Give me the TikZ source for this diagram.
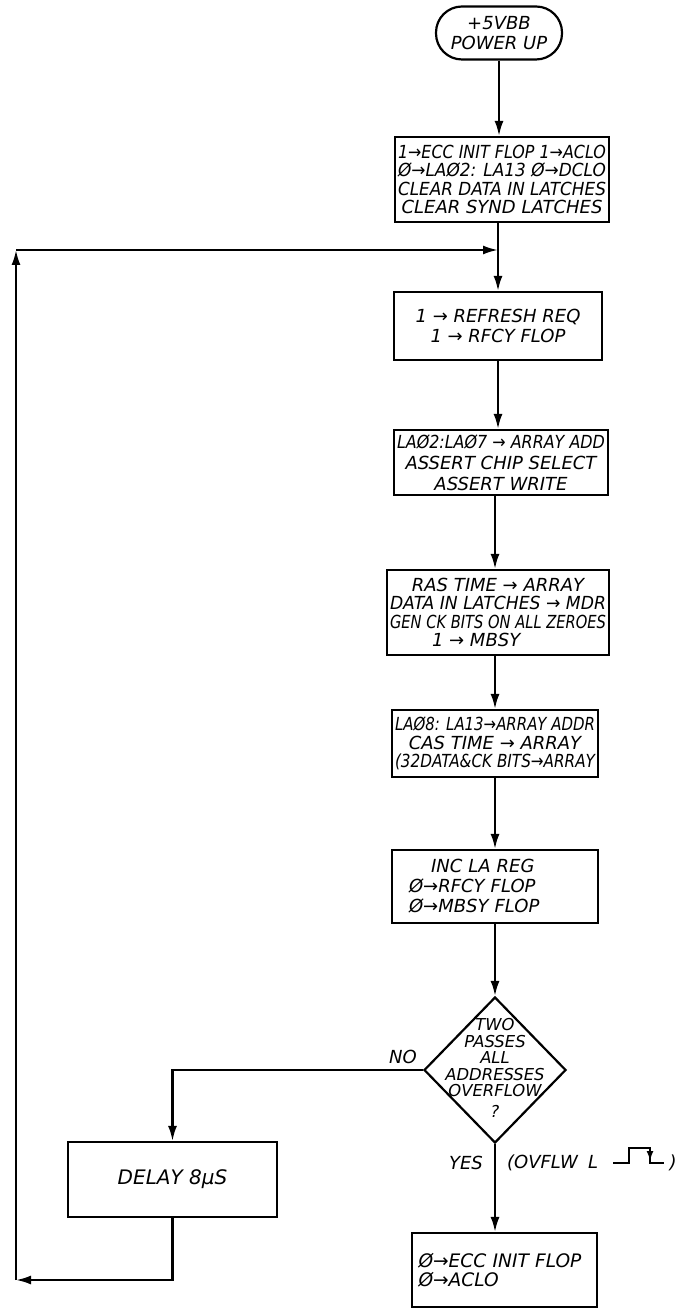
\documentclass[tikz,border=0pt]{standalone}
\usepackage{fontspec}
\setmainfont{DejaVu Sans}
\usepackage{graphicx}
\usetikzlibrary{shapes.geometric,arrows.meta}
\newlength\flw
\newcommand\fitto[2]{\settowidth\flw{#2}\ifdim\flw>#1\relax\resizebox{#1}{\height}{#2}\else#2\fi}
\begin{document}
\begin{tikzpicture}[x=0.5pt,y=-0.5pt,
  txt/.style={font=\fontsize{9}{9.3}\selectfont\itshape},
  box/.style={txt,draw,line width=1.1pt,rectangle,inner sep=0pt,align=center},
  term/.style={txt,draw,line width=1.1pt,rounded corners=13pt,inner sep=0pt,align=center,
    minimum width=63pt,minimum height=26.5pt,font=\fontsize{9}{9.6}\selectfont\itshape},
  arr/.style={line width=1.1pt,-{Latex[length=7.5pt,width=4.5pt]}},
  plain/.style={line width=1.1pt}]
\useasboundingbox (0,0) rectangle (680,1309);

\node[term] (t) at (499,33) {+5VBB\\POWER UP};

\node[box,minimum width=107pt,minimum height=42.5pt] (b1) at (502,179.5)
  {\fitto{104pt}{1→ECC INIT FLOP 1→ACLO}\\
   \fitto{104pt}{Ø→LAØ2: LA13 Ø→DCLO}\\
   \fitto{104pt}{CLEAR DATA IN LATCHES}\\
   \fitto{104pt}{CLEAR SYND LATCHES}};

\node[box,minimum width=104pt,minimum height=34pt,font=\fontsize{9}{10}\selectfont\itshape] (b2) at (498,326)
  {1 → REFRESH REQ\\1 → RFCY FLOP};

\node[box,minimum width=107pt,minimum height=32.5pt,font=\fontsize{9}{10.5}\selectfont\itshape] (b3) at (501,462.5)
  {\fitto{104pt}{LAØ2:LAØ7 → ARRAY ADD}\\
   \fitto{104pt}{ASSERT CHIP SELECT}\\
   ASSERT WRITE};

\node[box,minimum width=111pt,minimum height=42.5pt] (b4) at (498,612.5)
  {\fitto{108pt}{RAS TIME → ARRAY}\\
   \fitto{108pt}{DATA IN LATCHES → MDR}\\
   \fitto{108pt}{GEN CK BITS ON ALL ZEROES}\\
   \makebox[104pt][l]{\hspace{19pt}1 → MBSY}};

\node[box,minimum width=103pt,minimum height=33.5pt] (b5) at (495,743.5)
  {\fitto{100pt}{LAØ8: LA13→ARRAY ADDR}\\
   CAS TIME → ARRAY\\
   \fitto{100pt}{(32DATA\&CK BITS→ARRAY}};

\node[box,minimum width=103pt,minimum height=36.5pt,align=left,text width=90pt,
  font=\fontsize{9}{10}\selectfont\itshape] (b6) at (495,886.5)
  {\hspace*{13pt}INC LA REG\\
   \hspace*{2pt}Ø→RFCY FLOP\\
   \hspace*{2pt}Ø→MBSY FLOP};

\node[draw,diamond,line width=1.1pt,minimum width=71pt,minimum height=73pt,inner sep=0pt] (dia) at (495,1070) {};
\node[txt,align=center,font=\fontsize{8.2}{8.3}\selectfont\itshape] (dtxt) at (495,1068)
  {TWO\\PASSES\\ALL\\ADDRESSES\\OVERFLOW\\[2pt]?};

\node[box,minimum width=104.5pt,minimum height=37.5pt,font=\fontsize{10}{11}\selectfont\itshape] (delay) at (172.5,1179.5)
  {DELAY 8μS};

\node[box,minimum width=92.5pt,minimum height=37pt,align=left,text width=86pt,
  font=\fontsize{9.3}{9.5}\selectfont\itshape] (b7) at (504.5,1270)
  {Ø→ECC INIT FLOP\\Ø→ACLO};

\node[txt] (no) at (403,1057) {NO};
\node[txt] (yes) at (466,1163) {YES};
\node[txt,anchor=west] (ov) at (500,1163) {(OVFLW\hspace{5pt}L};
\node[txt] (cp) at (673,1163) {)};
\draw[plain,line join=miter] (613,1163) -- (629,1163) -- (629,1148) -- (650,1148) -- (650,1163) -- (664,1163);
\draw[line width=1.1pt,-{Latex[length=5pt,width=3.5pt]}] (650,1149) -- (650,1161);

\coordinate (j) at (498,250);
\coordinate (s2) at (495,0);
\coordinate (c2) at (16,1280);
\coordinate (c3) at (16,250);

\draw[arr] (t.south) -- (t.south |- b1.north);
\draw[plain] (b1.south -| j) -- (j);
\draw[arr] (j) -- (j |- b2.north);
\draw[arr] (b2.south -| j) -- (j |- b3.north);
\draw[arr] (b3.south -| s2) -- (s2 |- b4.north);
\draw[arr] (b4.south -| s2) -- (s2 |- b5.north);
\draw[arr] (b5.south -| s2) -- (s2 |- b6.north);
\draw[arr] (b6.south -| s2) -- (dia.north);
\draw[arr] (dia.south) -- (dia.south |- b7.north);
\draw[arr] (dia.west) -| (delay.north);
\draw[arr] (delay.south) |- (c2);
\draw[arr] (c2) -- (c3);
\draw[arr] (c3) -- (j);
\end{tikzpicture}
\end{document}
